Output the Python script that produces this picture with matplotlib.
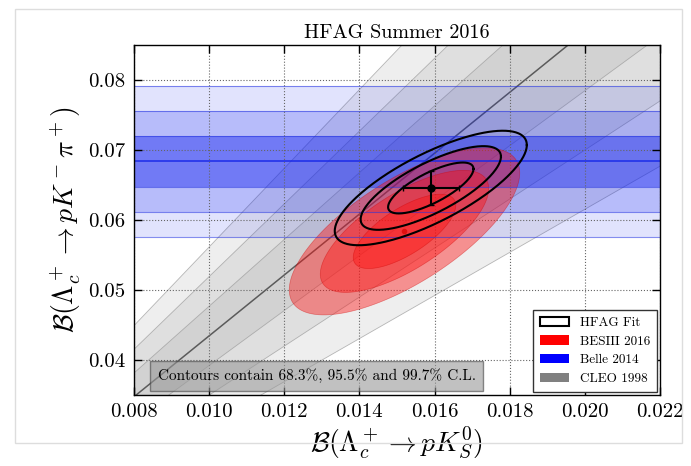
import numpy as np
import matplotlib
matplotlib.use("Agg")
import matplotlib.pyplot as plt
from matplotlib.patches import Patch, Rectangle
from matplotlib.ticker import FormatStrFormatter

plt.rcParams['font.family'] = 'serif'
plt.rcParams['font.serif'] = ['cmr10', 'DejaVu Serif']
plt.rcParams['mathtext.fontset'] = 'cm'
plt.rcParams['axes.formatter.use_mathtext'] = True
plt.rcParams['axes.unicode_minus'] = False

# ---------------- data ----------------
title = "HFAG Summer 2016"
x_label = r"$\mathcal{B}(\Lambda_c^+ \to pK^0_S)$"
y_label = r"$\mathcal{B}(\Lambda_c^+ \to pK^-\pi^+)$"
x_ticks = [0.008, 0.010, 0.012, 0.014, 0.016, 0.018, 0.020, 0.022]
y_ticks = [0.04, 0.05, 0.06, 0.07, 0.08]
x_range = [0.008, 0.022]
y_range = [0.035, 0.085]

# CLEO 1998: ratio B(pKs)/B(pK-pi+)
cleo_ratio = 0.23
cleo_ratio_err = 0.0224
# Belle 2014: B(pK-pi+)
belle_value = 0.0684
belle_err = 0.0036
# BESIII 2016: (B(pKs), B(pK-pi+))
besiii_center = [0.0152, 0.0584]
besiii_sigma = [0.0009, 0.0035]
besiii_rho = 0.70
# HFAG fit
hfag_center = [0.0159, 0.0646]
hfag_sigma = [0.00075, 0.0024]
hfag_rho = 0.75

cl_levels = [0.683, 0.955, 0.997]
n_sigma = [1, 2, 3]
legend_labels = ["HFAG Fit", "BESIII 2016", "Belle 2014", "CLEO 1998"]
box_text = "Contours contain 68.3%, 95.5% and 99.7% C.L."

# ---------------- figure ----------------
fig = plt.figure(figsize=(6.91, 4.66), dpi=100)
fig.patch.set_facecolor('white')
# screenshot card frame
fig.patches.append(Rectangle((0.022, 0.05), 0.965, 0.93, transform=fig.transFigure,
                             fill=False, edgecolor='#dddddd', lw=1.0))
ax = fig.add_axes([0.194, 0.152, 0.761, 0.751])


def ellipse_pts(center, sigma, rho, cl):
    k = np.sqrt(-2.0 * np.log(1.0 - cl))
    cov = np.array([[sigma[0] ** 2, rho * sigma[0] * sigma[1]],
                    [rho * sigma[0] * sigma[1], sigma[1] ** 2]])
    L = np.linalg.cholesky(cov)
    t = np.linspace(0, 2 * np.pi, 300)
    circ = np.vstack([np.cos(t), np.sin(t)]) * k
    pts = L @ circ
    return center[0] + pts[0], center[1] + pts[1]


# CLEO bands (slopes y = k x)
k0 = 1.0 / cleo_ratio
sk = cleo_ratio_err / cleo_ratio ** 2
xs = np.linspace(0.0, 0.03, 50)
for n in n_sigma[::-1]:
    lo, hi = k0 - n * sk, k0 + n * sk
    ax.fill_between(xs, lo * xs, hi * xs, color='gray', alpha=0.13, lw=0, zorder=1)
    ax.plot(xs, lo * xs, color='#999999', lw=0.6, alpha=0.7, zorder=1.1)
    ax.plot(xs, hi * xs, color='#999999', lw=0.6, alpha=0.7, zorder=1.1)
ax.plot(xs, k0 * xs, color='#333333', lw=1.1, alpha=0.75, zorder=1.2)

# Belle bands
belle_alpha = {1: 0.42, 2: 0.20, 3: 0.12}
for n in n_sigma[::-1]:
    ax.axhspan(belle_value - n * belle_err, belle_value + n * belle_err,
               facecolor='#1020f0', alpha=belle_alpha[n], lw=0, zorder=2)
    ax.axhline(belle_value - n * belle_err, color='#2030e0', lw=0.8, alpha=0.55, zorder=4)
    ax.axhline(belle_value + n * belle_err, color='#2030e0', lw=0.8, alpha=0.55, zorder=4)
ax.axhline(belle_value, color='#1a2ae8', lw=1.2, alpha=0.9, zorder=4)

# BESIII ellipses
for cl in cl_levels[::-1]:
    ex, ey = ellipse_pts(besiii_center, besiii_sigma, besiii_rho, cl)
    ax.fill(ex, ey, facecolor='#ff1010', alpha=0.42, edgecolor='#d00000', lw=0.5, zorder=3)
ax.plot([besiii_center[0]], [besiii_center[1]], 'o', color='#e01010', ms=3, zorder=3.5)

# HFAG fit ellipses
for cl in cl_levels:
    ex, ey = ellipse_pts(hfag_center, hfag_sigma, hfag_rho, cl)
    ax.plot(ex, ey, color='black', lw=1.5, zorder=5)
ax.errorbar([hfag_center[0]], [hfag_center[1]], xerr=[hfag_sigma[0]], yerr=[hfag_sigma[1]],
            fmt='o', color='black', ms=5, lw=1.5, capsize=2, zorder=6)

ax.set_xlim(x_range)
ax.set_ylim(y_range)
ax.set_xticks(x_ticks)
ax.set_yticks(y_ticks)
ax.xaxis.set_major_formatter(FormatStrFormatter('%.3f'))
ax.yaxis.set_major_formatter(FormatStrFormatter('%.2f'))
ax.tick_params(direction='in', top=True, right=True, length=6, width=1, labelsize=15, pad=6)
ax.grid(True, color='#666666', ls=':', lw=0.8)
ax.set_axisbelow(False)
for s in ax.spines.values():
    s.set_linewidth(1.0)
    s.set_zorder(10)

ax.set_title(title, fontsize=14.5, pad=5)
ax.set_xlabel(x_label, fontsize=20, labelpad=2)
ax.set_ylabel(y_label, fontsize=20, labelpad=4)

handles = [Patch(facecolor='white', edgecolor='black', lw=1.5),
           Patch(facecolor='red', edgecolor='none'),
           Patch(facecolor='blue', edgecolor='none'),
           Patch(facecolor='gray', edgecolor='none')]
leg = ax.legend(handles, legend_labels, loc='lower right', fontsize=9.5, fancybox=False,
                framealpha=1.0, edgecolor='#333333', borderpad=0.5, labelspacing=0.5,
                handlelength=2.2, borderaxespad=0.25)
leg.get_frame().set_linewidth(1.0)
leg.set_zorder(20)

ax.text(0.045, 0.055, box_text, transform=ax.transAxes, fontsize=11, va='center', ha='left',
        zorder=20, bbox=dict(boxstyle='square,pad=0.5', facecolor='#999999', alpha=0.6,
                             edgecolor='#444444', lw=1.0))

fig.savefig("out.png", dpi=100)
